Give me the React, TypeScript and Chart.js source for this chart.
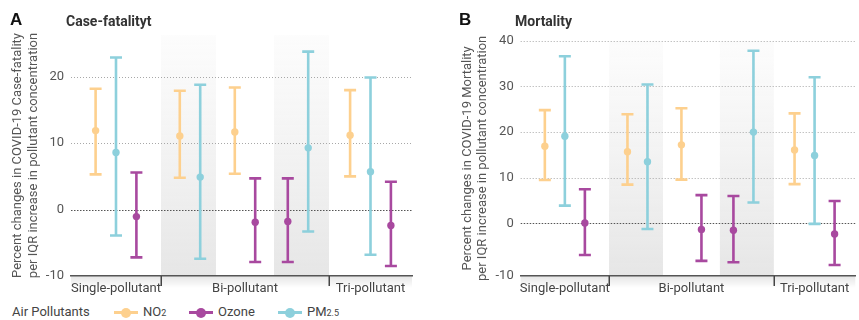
import React, { useEffect, useRef } from 'react';
import { Chart, registerables } from 'chart.js';

Chart.register(...registerables);

// ---------------- data ----------------
const modelLabels = ['Single-pollutant', 'Bi-pollutant', 'Tri-pollutant'];
const pollutantNames = ['NO2', 'Ozone', 'PM2.5'];
// which model and sub-group (pair) each estimate belongs to
const estimateModel = [0, 0, 0, 1, 1, 1, 1, 1, 1, 2, 2, 2];
const estimateSubgroup = [0, 0, 0, 1, 1, 2, 2, 3, 3, 4, 4, 4];
const estimatePollutant = ['NO2', 'PM2.5', 'Ozone', 'NO2', 'PM2.5', 'NO2', 'Ozone', 'Ozone', 'PM2.5', 'NO2', 'PM2.5', 'Ozone'];

// Panel A: case-fatality
const caseFatalityEst = [11.9, 8.6, -1.05, 11.1, 4.9, 11.7, -1.9, -1.8, 9.3, 11.2, 5.7, -2.4];
const caseFatalityLow = [5.3, -3.9, -7.2, 4.8, -7.4, 5.4, -7.9, -7.9, -3.3, 5.0, -6.8, -8.5];
const caseFatalityHigh = [18.2, 22.9, 5.6, 17.9, 18.8, 18.4, 4.7, 4.7, 23.8, 18.0, 19.9, 4.2];
const caseFatalityTicks = [-10, 0, 10, 20];

// Panel B: mortality
const mortalityEst = [16.9, 19.1, 0.1, 15.7, 13.5, 17.2, -1.3, -1.5, 20.0, 16.1, 14.9, -2.3];
const mortalityLow = [9.5, 3.9, -6.9, 8.5, -1.2, 9.6, -8.2, -8.5, 4.6, 8.6, -0.1, -9.1];
const mortalityHigh = [24.8, 36.6, 7.5, 23.9, 30.4, 25.2, 6.2, 6.0, 37.8, 24.1, 32.0, 4.9];
const mortalityTicks = [-10, 0, 10, 20, 30, 40];

// ---------------- layout / style ----------------
const COLORS: Record<string, string> = {
  NO2: '#FDD08E',
  Ozone: '#A8499F',
  'PM2.5': '#8DD0DC',
};
const X_MAX = 341;
const SUBGROUP_RANGES = [[0, 90], [90, 145], [145, 203], [203, 258], [258, 341]];
const SUBGROUP_SHIFT = [0, 1.5, 0, -3.5, 0];
const SUBGROUP_SHADED = [false, true, false, true, false];
const MODEL_RANGES = [[0, 90], [90, 258], [258, 341]];
const MARKER_STEP = 20.4;

function markerX(i: number) {
  const g = estimateSubgroup[i];
  const members = estimateSubgroup.map((s, j) => (s === g ? j : -1)).filter((j) => j >= 0);
  const k = members.indexOf(i);
  const n = members.length;
  const [a, b] = SUBGROUP_RANGES[g];
  return (a + b) / 2 + SUBGROUP_SHIFT[g] + (k - (n - 1) / 2) * MARKER_STEP;
}

const decorPlugin = {
  id: 'decor',
  beforeDraw(chart: any) {
    const { ctx, chartArea: a, scales } = chart;
    const x = scales.x;
    ctx.save();
    const g = ctx.createLinearGradient(0, a.top, 0, a.bottom);
    g.addColorStop(0, 'rgba(236,236,236,0.15)');
    g.addColorStop(1, 'rgba(230,230,230,1)');
    ctx.fillStyle = g;
    SUBGROUP_RANGES.forEach((r, i) => {
      if (!SUBGROUP_SHADED[i]) return;
      const x0 = x.getPixelForValue(r[0]);
      const x1 = x.getPixelForValue(r[1]);
      ctx.fillRect(x0, a.top, x1 - x0, a.bottom - a.top);
    });
    const sg = ctx.createLinearGradient(0, a.bottom, 0, a.bottom + 12);
    sg.addColorStop(0, 'rgba(0,0,0,0.10)');
    sg.addColorStop(1, 'rgba(0,0,0,0)');
    ctx.fillStyle = sg;
    ctx.fillRect(a.left, a.bottom, a.right - a.left, 12);
    ctx.restore();
  },
  beforeDatasetsDraw(chart: any) {
    const { ctx, chartArea: a, scales } = chart;
    const x = scales.x;
    const y = scales.y;
    ctx.save();
    // dotted grid lines
    y.ticks.forEach((t: any) => {
      if (t.value <= y.min + 1e-6) return;
      const py = Math.round(y.getPixelForValue(t.value)) + 0.5;
      ctx.beginPath();
      ctx.setLineDash(t.value === 0 ? [1.5, 1.5] : [1, 2]);
      ctx.strokeStyle = t.value === 0 ? '#555' : '#a8a8a8';
      ctx.lineWidth = t.value === 0 ? 1.2 : 1;
      ctx.moveTo(a.left, py);
      ctx.lineTo(a.right, py);
      ctx.stroke();
    });
    ctx.setLineDash([]);
    // error bars
    chart.data.datasets.forEach((ds: any) => {
      ctx.strokeStyle = ds.borderColor;
      ctx.lineWidth = 2.6;
      ds.data.forEach((p: any) => {
        const px = x.getPixelForValue(p.x);
        const pl = y.getPixelForValue(p.lo);
        const ph = y.getPixelForValue(p.hi);
        ctx.beginPath();
        ctx.moveTo(px, pl);
        ctx.lineTo(px, ph);
        ctx.moveTo(px - 6, pl);
        ctx.lineTo(px + 6, pl);
        ctx.moveTo(px - 6, ph);
        ctx.lineTo(px + 6, ph);
        ctx.stroke();
      });
    });
    ctx.restore();
  },
  afterDraw(chart: any) {
    const { ctx, chartArea: a, scales } = chart;
    const x = scales.x;
    ctx.save();
    ctx.strokeStyle = '#444';
    ctx.lineWidth = 1.5;
    MODEL_RANGES.slice(0, -1).forEach((r) => {
      const px = Math.round(x.getPixelForValue(r[1])) + 0.25;
      ctx.beginPath();
      ctx.moveTo(px, a.bottom);
      ctx.lineTo(px, a.bottom + 10);
      ctx.stroke();
    });
    ctx.restore();
  },
};

type PanelCfg = {
  est: number[];
  low: number[];
  high: number[];
  ticks: number[];
  yMin: number;
  yMax: number;
  yTitle: string[];
  padLeft: number;
  padTop: number;
  padRight: number;
};

function Panel({ cfg, left, width }: { cfg: PanelCfg; left: number; width: number }) {
  const ref = useRef<HTMLCanvasElement>(null);
  useEffect(() => {
    const datasets = pollutantNames.map((p) => ({
      label: p,
      data: cfg.est
        .map((v, i) =>
          estimatePollutant[i] === p ? { x: markerX(i), y: v, lo: cfg.low[i], hi: cfg.high[i], m: estimateModel[i] } : null
        )
        .filter(Boolean),
      backgroundColor: COLORS[p],
      borderColor: COLORS[p],
      pointRadius: 3.7,
      pointHoverRadius: 3.7,
      pointBorderWidth: 0,
      showLine: false,
    }));
    const chart = new Chart(ref.current as HTMLCanvasElement, {
      type: 'scatter',
      data: { datasets: datasets as any },
      plugins: [decorPlugin as any],
      options: {
        animation: false,
        responsive: false,
        events: [],
        layout: { padding: { left: cfg.padLeft, top: cfg.padTop, right: cfg.padRight, bottom: 0 } },
        plugins: { legend: { display: false }, tooltip: { enabled: false }, title: { display: false } },
        scales: {
          x: {
            type: 'linear',
            min: 0,
            max: X_MAX,
            bounds: 'data',
            grid: { display: false, drawTicks: false },
            border: { display: true, color: '#555', width: 1.5 },
            ticks: {
              autoSkip: false,
              maxRotation: 0,
              padding: 5,
              color: '#444',
              font: { family: 'Roboto', size: 13 },
              callback: (_v: any, i: number) => modelLabels[i],
            },
            afterBuildTicks: (scale: any) => {
              scale.ticks = MODEL_RANGES.map((r) => ({ value: (r[0] + r[1]) / 2 }));
            },
            afterFit: (scale: any) => {
              scale.height = 24;
            },
          },
          y: {
            type: 'linear',
            min: cfg.yMin,
            max: cfg.yMax,
            bounds: 'data',
            grid: { display: false, drawTicks: false },
            border: { display: false },
            ticks: {
              padding: 7,
              color: '#555',
              font: { family: 'Roboto', size: 13 },
              callback: (_v: any, i: number) => String(cfg.ticks[i]),
            },
            afterBuildTicks: (scale: any) => {
              scale.ticks = cfg.ticks.map((t, i) => ({ value: i === 0 ? cfg.yMin : t }));
            },
            afterFit: (scale: any) => {
              scale.width = 71;
            },
            title: {
              display: true,
              text: cfg.yTitle,
              color: '#555',
              font: { family: 'Roboto', size: 13, lineHeight: 1.18 },
              padding: { top: 10.5, bottom: 0 },
            },
          },
        },
      },
    });
    return () => chart.destroy();
  }, []);
  return (
    <canvas
      ref={ref}
      width={width}
      height={300}
      style={{ position: 'absolute', left, top: 0, width, height: 300 }}
    />
  );
}

const panelA: PanelCfg = {
  est: caseFatalityEst,
  low: caseFatalityLow,
  high: caseFatalityHigh,
  ticks: caseFatalityTicks,
  yMin: -10,
  yMax: 26.3,
  yTitle: ['Percent changes in COVID-19 Case-fatality', 'per IQR increase in pollutant concentration'],
  padLeft: 0,
  padTop: 35,
  padRight: 18,
};

const panelB: PanelCfg = {
  est: mortalityEst,
  low: mortalityLow,
  high: mortalityHigh,
  ticks: mortalityTicks,
  yMin: -11.5,
  yMax: 40,
  yTitle: ['Percent changes in COVID-19 Mortality', 'per IQR increase in pollutant concentration'],
  padLeft: 19.7,
  padTop: 40.7,
  padRight: 1,
};

const legendItems = [
  { key: 'NO2', main: 'NO', sub: '2', left: 114 },
  { key: 'Ozone', main: 'Ozone', sub: '', left: 189 },
  { key: 'PM2.5', main: 'PM', sub: '2.5', left: 278 },
];

export default function App() {
  const text: React.CSSProperties = { position: 'absolute', whiteSpace: 'nowrap', lineHeight: '16px' };
  return (
    <div
      style={{
        position: 'fixed',
        left: 0,
        top: 0,
        width: 859,
        height: 320,
        background: '#fff',
        overflow: 'hidden',
        fontFamily: 'Roboto, sans-serif',
      }}
    >
      <Panel cfg={panelA} left={0} width={430} />
      <Panel cfg={panelB} left={430} width={429} />
      <div style={{ ...text, left: 10, top: 10, font: 'bold 17px "Liberation Sans", Arial, sans-serif', color: '#111', lineHeight: '20px' }}>A</div>
      <div style={{ ...text, left: 66, top: 13, font: 'bold 14px Roboto', color: '#333' }}>Case-fatalityt</div>
      <div style={{ ...text, left: 459, top: 10, font: 'bold 17px "Liberation Sans", Arial, sans-serif', color: '#111', lineHeight: '20px' }}>B</div>
      <div style={{ ...text, left: 515, top: 13, font: 'bold 14px Roboto', color: '#333' }}>Mortality</div>
      <div style={{ ...text, left: 12, top: 304, font: '13px Roboto', color: '#444' }}>Air Pollutants</div>
      {legendItems.map((it) => (
        <React.Fragment key={it.key}>
          <div style={{ position: 'absolute', left: it.left, top: 311, width: 24, height: 3, background: COLORS[it.key] }} />
          <div
            style={{
              position: 'absolute',
              left: it.left + 7,
              top: 307.5,
              width: 10,
              height: 10,
              borderRadius: 5,
              background: COLORS[it.key],
            }}
          />
          <div style={{ ...text, left: it.left + 29, top: 304, font: '13px Roboto', color: '#444' }}>
            {it.main}
            {it.sub ? <span style={{ fontSize: 9 }}>{it.sub}</span> : null}
          </div>
        </React.Fragment>
      ))}
    </div>
  );
}
